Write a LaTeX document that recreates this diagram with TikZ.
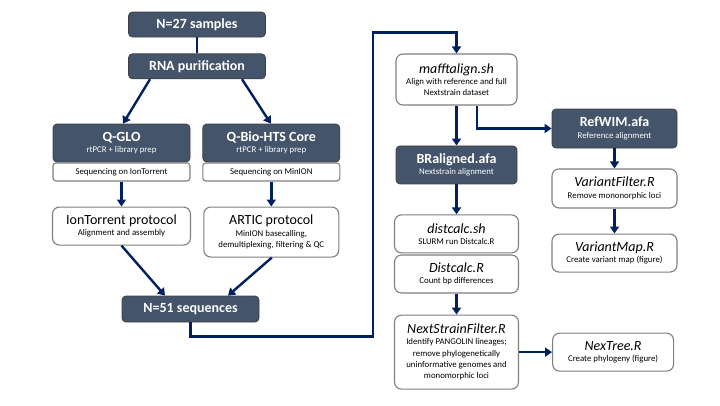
\documentclass[tikz,border=0pt]{standalone}
\usepackage{fontspec}
\setmainfont{Carlito}
\usetikzlibrary{positioning, arrows.meta, calc}
\definecolor{slatebox}{HTML}{44546A}
\definecolor{arrnavy}{HTML}{002060}
\definecolor{edgegray}{HTML}{7F7F7F}
\newcommand{\bigtxt}[1]{{\fontsize{14}{16}\selectfont #1}}

\begin{document}
\begin{tikzpicture}[
    x=1pt, y=-1pt,
    every node/.style={font=\fontsize{8.8}{11.3}\selectfont, inner sep=1pt},
    dark/.style={
      rectangle, rounded corners=4pt, draw=black!75, fill=slatebox,
      text=white, minimum width=137pt, minimum height=38pt, align=center,
      line width=0.8pt
    },
    lite/.style={
      rectangle, rounded corners=7pt, draw=edgegray, fill=white,
      minimum width=137pt, minimum height=38pt, align=center,
      line width=1.1pt
    },
    seqbox/.style={
      rectangle, rounded corners=3pt, draw=edgegray, fill=white,
      minimum width=137pt, minimum height=18pt, align=center,
      line width=1.1pt
    },
    arr/.style={-{Triangle[width=9pt, length=7pt]}, line width=2.4pt, color=arrnavy},
    link/.style={line width=2.4pt, color=arrnavy},
  ]
  \useasboundingbox (0,0) rectangle (720,405);

  % sample preparation
  \node[dark, minimum height=25pt] (n27) at (197,24.5) {\bigtxt{\bfseries N=27 samples}};
  \node[dark, minimum height=25pt, below=16pt of n27] (rna) {\bigtxt{\bfseries RNA purification}};

  \node[dark] (qglo) at (121.5,143) {\bigtxt{\bfseries Q-GLO}\\rtPCR + library prep};
  \node[dark, right=12pt of qglo] (qbio) {\bigtxt{\bfseries Q-Bio-HTS Core}\\rtPCR + library prep};
  \node[seqbox, below=0pt of qglo] (seqion) {Sequencing on IonTorrent};
  \node[seqbox, below=0pt of qbio] (seqmin) {Sequencing on MinION};

  \node[lite, minimum width=138pt, below=25pt of seqion] (ion)
    {\bigtxt{IonTorrent protocol}\\Alignment and assembly};
  \node[lite, minimum width=135pt, minimum height=50pt, below=25pt of seqmin] (artic)
    {\bigtxt{ARTIC protocol}\\MinION basecalling,\\demultiplexing, filtering \& QC};

  \node[dark, minimum height=26pt] (n51) at (190.5,309) {\bigtxt{\bfseries N=51 sequences}};

  % alignment and analysis
  \node[lite, minimum width=121pt, minimum height=51pt] (mafft) at (456.5,79.5)
    {\bigtxt{\itshape mafftalign.sh}\\Align with reference and full\\Nextstrain dataset};
  \node[dark, minimum width=121pt, below=40pt of mafft] (braln)
    {\bigtxt{\bfseries BRaligned.afa}\\Nextstrain alignment};
  \node[lite, minimum width=124pt, below=30pt of braln] (distsh)
    {\bigtxt{\itshape distcalc.sh}\\SLURM run Distcalc.R};
  \node[lite, minimum width=124pt, below=1pt of distsh] (distr)
    {\bigtxt{\itshape Distcalc.R}\\Count bp differences};
  \node[lite, minimum width=124pt, minimum height=74pt, below=21pt of distr] (nsf)
    {\bigtxt{\itshape NextStrainFilter.R}\\Identify PANGOLIN lineages;\\remove phylogenetically\\uninformative genomes and\\monomorphic loci};

  \node[dark, minimum width=125pt, minimum height=39pt] (refwim) at (614.5,128.5)
    {\bigtxt{\bfseries RefWIM.afa}\\Reference alignment};
  \node[lite, minimum width=125pt, minimum height=39pt, below=20pt of refwim] (vfilt)
    {\bigtxt{\itshape VariantFilter.R}\\Remove mononorphic loci};
  \node[lite, minimum width=125pt, below=25pt of vfilt] (vmap)
    {\bigtxt{\itshape VariantMap.R}\\Create variant map (figure)};
  \node[lite, minimum width=121pt, right=33pt of nsf] (nextree)
    {\bigtxt{\itshape NexTree.R}\\Create phylogeny (figure)};

  % connectors
  \draw[link] (n27) -- (rna);
  \draw[arr] ([xshift=-47pt]rna.south) -- ([xshift=1.5pt]qglo.north);
  \draw[arr] ([xshift=45pt]rna.south) -- ([xshift=-0.5pt]qbio.north);
  \draw[arr] (seqion) -- (ion);
  \draw[arr] (seqmin.south) -- (seqmin.south |- artic.north);
  \draw[arr] (ion.south) -- ([xshift=-25.5pt]n51.north);
  \draw[arr] ([xshift=0.5pt]artic.south) -- ([xshift=37.5pt]n51.north);
  \draw[arr] (n51.south) -- ++(0,14) -- ++(182.5,0) |- ([yshift=21pt]mafft.north) -- (mafft.north);
  \draw[arr] (mafft) -- (braln);
  \draw[arr] ([xshift=20.5pt]mafft.south) |- (refwim.west);
  \draw[arr] (braln) -- (distsh);
  \draw[arr] (distr) -- (nsf);
  \draw[arr] (refwim) -- (vfilt);
  \draw[arr] (vfilt) -- (vmap);
  \draw[arr] (nsf) -- (nextree);

\end{tikzpicture}
\end{document}
